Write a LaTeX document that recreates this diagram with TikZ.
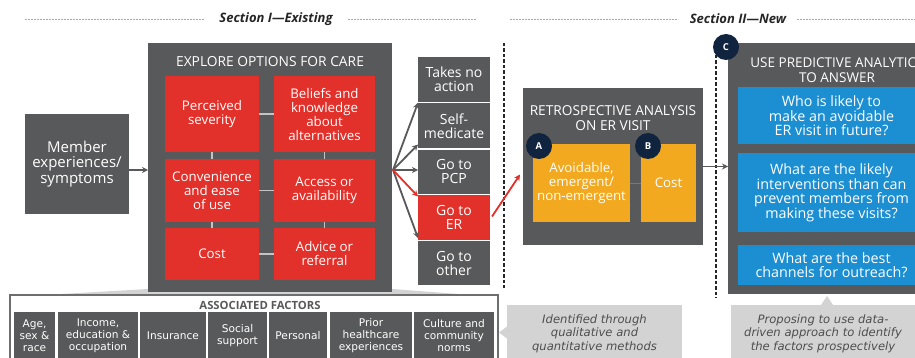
\documentclass[tikz,border=0pt]{standalone}
\usepackage{fontspec}
\setmainfont{Open Sans}
\newfontfamily\dvs{DejaVu Sans}
\usetikzlibrary{calc,arrows.meta}
\definecolor{boxgray}{HTML}{58595B}
\definecolor{boxred}{HTML}{E2302A}
\definecolor{boxorange}{HTML}{F2A81F}
\definecolor{boxblue}{HTML}{1C8ED2}
\definecolor{navy}{HTML}{10233F}
\definecolor{callgray}{HTML}{D3D3D4}
\definecolor{calltext}{HTML}{4E4E4E}
\definecolor{linkgray}{HTML}{C4C4C4}
\definecolor{headdash}{HTML}{A8A8A8}
\definecolor{outline}{HTML}{6D6E70}
\newcommand\bx[7]{\node[#6, minimum width={(#4-#2)*1pt}, minimum height={(#5-#3)*1pt}] (#1) at ({(#2+#4)/2},{(#3+#5)/2}) {#7};}
\begin{document}
\begin{tikzpicture}[x=1pt,y=-1pt,
  box/.style={inner sep=0pt, outer sep=0pt, align=center, text=white},
  gbox/.style={box, fill=boxgray},
  rbox/.style={box, fill=boxred, font=\fontsize{13.3}{14}\selectfont},
  obox/.style={box, fill=boxorange, font=\fontsize{13.3}{14}\selectfont},
  bbox/.style={box, fill=boxblue, font=\fontsize{14.3}{13.8}\selectfont},
  optbox/.style={gbox, font=\fontsize{14}{14}\selectfont},
  facbox/.style={gbox, font=\dvs\fontsize{10.6}{12}\selectfont},
  callbox/.style={box, fill=callgray, text=calltext, font=\dvs\itshape\fontsize{11.6}{13.5}\selectfont},
  titletext/.style={inner sep=0pt, align=center, text=white, font=\fontsize{14}{15.5}\selectfont},
  sechead/.style={inner sep=0pt, text=black!85, font=\bfseries\itshape\fontsize{13}{15}\selectfont},
  hdash/.style={draw=headdash, line width=0.8pt, dash pattern=on 2pt off 1pt},
  vdash/.style={draw=black!85, line width=1.4pt, dash pattern=on 3.5pt off 2pt},
  link/.style={draw=linkgray, line width=1.3pt},
  arr/.style={-{Stealth[length=6pt,width=6pt]}, draw=boxgray, line width=1.8pt},
  rarr/.style={-{Stealth[length=6pt,width=6pt]}, draw=boxred, line width=1.8pt},
  circ/.style={circle, fill=navy, text=white, inner sep=0pt, minimum size=26pt, font=\bfseries\fontsize{9.5}{9.5}\selectfont}
]
\useasboundingbox (0,0) rectangle (915,358);
\clip (0,0) rectangle (915,358);
\fill[white] (0,0) rectangle (915,358);

% ---- section headers
\node[sechead] (s1) at (276,19) {Section I—Existing};
\node[sechead] (s2) at (738,19) {Section II—New};
\coordinate (h1a) at (25,19);  \coordinate (h1b) at (204,19);
\coordinate (h1c) at (348,19); \coordinate (h1d) at (476,19);
\coordinate (h2a) at (510,19); \coordinate (h2b) at (678,19);
\coordinate (h2c) at (797,19); \coordinate (h2d) at (915,19);
\draw[hdash] (h1a) -- (h1b);
\draw[hdash] (h1c) -- (h1d);
\draw[hdash] (h2a) -- (h2b);
\draw[hdash] (h2c) -- (h2d);

% ---- sliver linking explore box to associated factors
\fill[callgray] (148,289) -- (392,289) -- (498,297) -- (10,297) -- cycle;

% ---- member box
\bx{member}{25}{114}{129}{214}{gbox, font=\fontsize{15}{15.3}\selectfont}{Member\\experiences/\\symptoms}

% ---- explore box
\bx{explore}{148}{43}{392}{292}{gbox}{}
\node[titletext, font=\fontsize{13.8}{15}\selectfont] (exploreT) at (270,62) {EXPLORE OPTIONS FOR CARE};
\bx{sev}{165}{76}{259}{152}{rbox}{Perceived\\severity}
\bx{bel}{274}{76}{375}{152}{rbox}{Beliefs and\\knowledge\\about\\alternatives}
\bx{conv}{165}{159}{259}{222}{rbox}{Convenience\\and ease\\of use}
\bx{acc}{274}{159}{375}{222}{rbox}{Access or\\availability}
\bx{cost}{165}{228}{259}{280}{rbox}{Cost}
\bx{adv}{274}{228}{375}{280}{rbox}{Advice or\\referral}
\draw[link] (sev.east) -- (bel.west);
\draw[link] (conv.east) -- (acc.west);
\draw[link] (cost.east) -- (adv.west);
\draw[link] (sev.south) -- (conv.north);
\draw[link] (conv.south) -- (cost.north);
\draw[link] (bel.south) -- (acc.north);
\draw[link] (acc.south) -- (adv.north);

\coordinate (fork) at (393,170);
\draw[arr] (member.east |- fork) -- (explore.west |- fork);

% ---- options
\bx{takes}{418}{57}{490}{102}{optbox}{Takes no\\action}
\bx{selfm}{418}{103.5}{490}{148.5}{optbox}{Self-\\medicate}
\bx{pcp}{418}{150}{490}{194}{optbox}{Go to\\PCP}
\bx{er}{418}{195.5}{490}{239.5}{optbox, fill=boxred}{Go to\\ER}
\bx{other}{418}{241}{490}{285}{optbox}{Go to\\other}
\draw[arr] (fork) -- ($(takes.south west)!0.5!(selfm.north west)$);
\draw[arr] (fork) -- ($(selfm.south west)+(0,-4)$);
\draw[arr] (fork) -- (pcp.west |- fork);
\draw[arr] (fork) -- ($(er.south west)+(0,-1.5)$);
\draw[rarr] (fork) -- ($(er.north west)+(0,1)$);

% ---- dashed separators
\coordinate (d1t) at (504,43);  \coordinate (d1b) at (504,288);
\coordinate (d2t) at (716,55);  \coordinate (d2b) at (716,298);
\draw[vdash] (d1t) -- (d1b);
\draw[vdash] (d2t) -- (d2b);

% ---- retrospective
\bx{retro}{523}{88}{703}{245}{gbox}{}
\node[titletext, font=\fontsize{13.7}{15.5}\selectfont] (retroT) at (613,118) {RETROSPECTIVE ANALYSIS\\ON ER VISIT};
\bx{avoid}{533}{144}{630}{222}{obox}{Avoidable,\\emergent/\\non-emergent}
\bx{rcost}{641}{144}{696}{222}{obox}{Cost}
\draw[draw=orange!80!black, line width=0.6pt] (avoid.east) -- (rcost.west);
\node[circ] (cA) at (539,146) {A};
\node[circ] (cB) at (648,146) {B};
\draw[rarr] ($(er.east)+(2,-1)$) -- ($(retro.west)+(-3,8)$);

% ---- predictive
\bx{pred}{728}{43}{946}{294}{gbox}{}
\node[titletext, font=\fontsize{13.5}{14.5}\selectfont] (predT) at (837,70) {USE PREDICTIVE ANALYTICS\\TO ANSWER};
\bx{q1}{738}{87}{925}{144}{bbox}{Who is likely to\\make an avoidable\\ER visit in future?}
\bx{q2}{738}{153}{925}{232}{bbox}{What are the likely\\interventions than can\\prevent members from\\making these visits?}
\bx{q3}{738}{245}{925}{285}{bbox}{What are the best\\channels for outreach?}
\node[circ] (cC) at (726,47) {C};
\draw[arr] (retro.east) -- (retro.east -| pred.west);

% ---- associated factors
\bx{assoc}{10}{295}{498}{372}{box, fill=white, draw=outline, line width=1.5pt}{}
\node[inner sep=0pt, text=boxgray, font=\bfseries\fontsize{11.3}{12}\selectfont] (assocT) at (260,305.5) {ASSOCIATED FACTORS};
\bx{f1}{14}{312}{55}{360}{facbox}{Age,\\sex \&\\race}
\bx{f2}{58}{312}{138}{360}{facbox}{Income,\\education \&\\occupation}
\bx{f3}{140}{312}{206}{360}{facbox}{Insurance}
\bx{f4}{208}{312}{267}{360}{facbox}{Social\\support}
\bx{f5}{269}{312}{327}{360}{facbox}{Personal}
\bx{f6}{330}{312}{412}{360}{facbox}{Prior\\healthcare\\experiences}
\bx{f7}{414}{312}{494}{360}{facbox}{Culture and\\community\\norms}

% ---- callouts
\bx{call1}{507}{305}{682}{362}{callbox}{Identified through\\qualitative and\\quantitative methods}
\fill[callgray] ($(call1.west)+(0,-7)$) -- ($(call1.west)+(-8,-1)$) -- ($(call1.west)+(0,5)$) -- cycle;
\bx{call2}{731}{305}{915}{362}{callbox}{Proposing to use data-\\driven approach to identify\\the factors prospectively}
\fill[callgray] ($(call2.north)+(-2,0)$) -- ($(call2.north)+(4,-9)$) -- ($(call2.north)+(10,0)$) -- cycle;
\end{tikzpicture}
\end{document}
